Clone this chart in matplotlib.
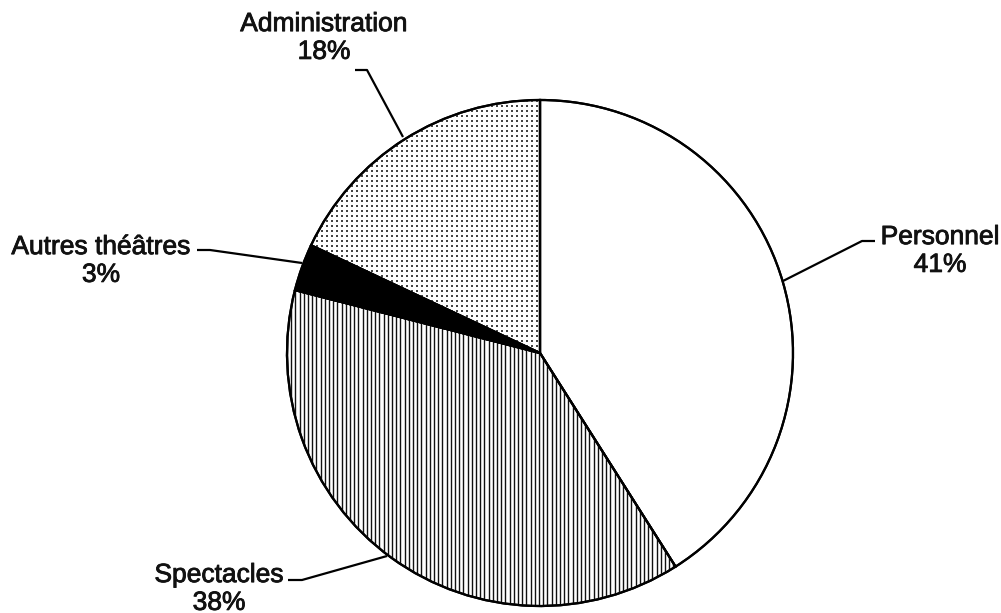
import numpy as np
import matplotlib
matplotlib.use("Agg")
from matplotlib import pyplot as plt
from matplotlib import patheffects as pe
from matplotlib.patches import Wedge

# donnees du graphique
categories = ["Personnel", "Spectacles", "Autres théâtres", "Administration"]
parts = [41, 38, 3, 18]
couleurs = ["white", "white", "black", "white"]
motifs = [None, "lignes", None, "points"]

W, H = 1001, 613
centre = (540, H - 353)
rayon = 253

# position des etiquettes (pixels, origine en haut a gauche) et lignes de rappel
etiquettes = {
    "Personnel": (940, 251),
    "Spectacles": (219, 589),
    "Autres théâtres": (101, 261),
    "Administration": (324, 38),
}
rappels = {
    "Personnel": [(875, 241), (862, 241), (783, 281)],
    "Spectacles": [(288, 580), (302, 580), (387, 556)],
    "Autres théâtres": [(197, 250), (210, 250), (302, 263)],
    "Administration": [(355, 70), (367, 70), (403, 137)],
}

plt.rcParams["font.family"] = ["Liberation Sans", "DejaVu Sans"]

fig = plt.figure(figsize=(W / 100, H / 100), dpi=100)
ax = fig.add_axes([0, 0, 1, 1])

wedges, _ = ax.pie(parts, center=centre, radius=rayon, startangle=90,
                   counterclock=False, colors=couleurs,
                   wedgeprops=dict(edgecolor="black", linewidth=1.6))

# la fonction pie impose ses propres limites : on les remet apres
ax.set_xlim(0, W)
ax.set_ylim(0, H)
ax.set_aspect("equal")
ax.axis("off")

# hachures faites a la main (les hachures de matplotlib noircissaient tout)
x0, x1 = centre[0] - rayon, centre[0] + rayon
y0, y1 = centre[1] - rayon, centre[1] + rayon
for w, m in zip(wedges, motifs):
    if m == "lignes":
        xs = np.arange(x0, x1, 4.2)
        lc = ax.vlines(xs, y0, y1, colors="#111111", linewidth=1.0, zorder=1.5)
        lc.set_clip_path(w)
    elif m == "points":
        gx, gy = np.meshgrid(np.arange(x0, x1, 5.0), np.arange(y0, y1, 5.0))
        sc = ax.scatter(gx.ravel(), gy.ravel(), s=0.8, marker="s",
                        color="#444444", linewidths=0, zorder=1.5)
        sc.set_clip_path(w)
    w.set_zorder(1)

# on redessine les contours par-dessus les hachures
for w in wedges:
    ax.add_patch(Wedge(w.center, w.r, w.theta1, w.theta2, fill=False,
                       edgecolor="black", linewidth=1.6, zorder=2))

for cat, p in zip(categories, parts):
    x, y = etiquettes[cat]
    ax.text(x, H - y, f"{cat}\n{p}%", ha="center", va="center",
            fontsize=19, color="#111111",
            path_effects=[pe.withStroke(linewidth=0.6, foreground="#111111")])
    pts = np.array(rappels[cat], dtype=float)
    ax.plot(pts[:, 0], H - pts[:, 1], color="black", linewidth=1.6,
            solid_capstyle="butt", zorder=3)

fig.savefig("out.png", dpi=100)
